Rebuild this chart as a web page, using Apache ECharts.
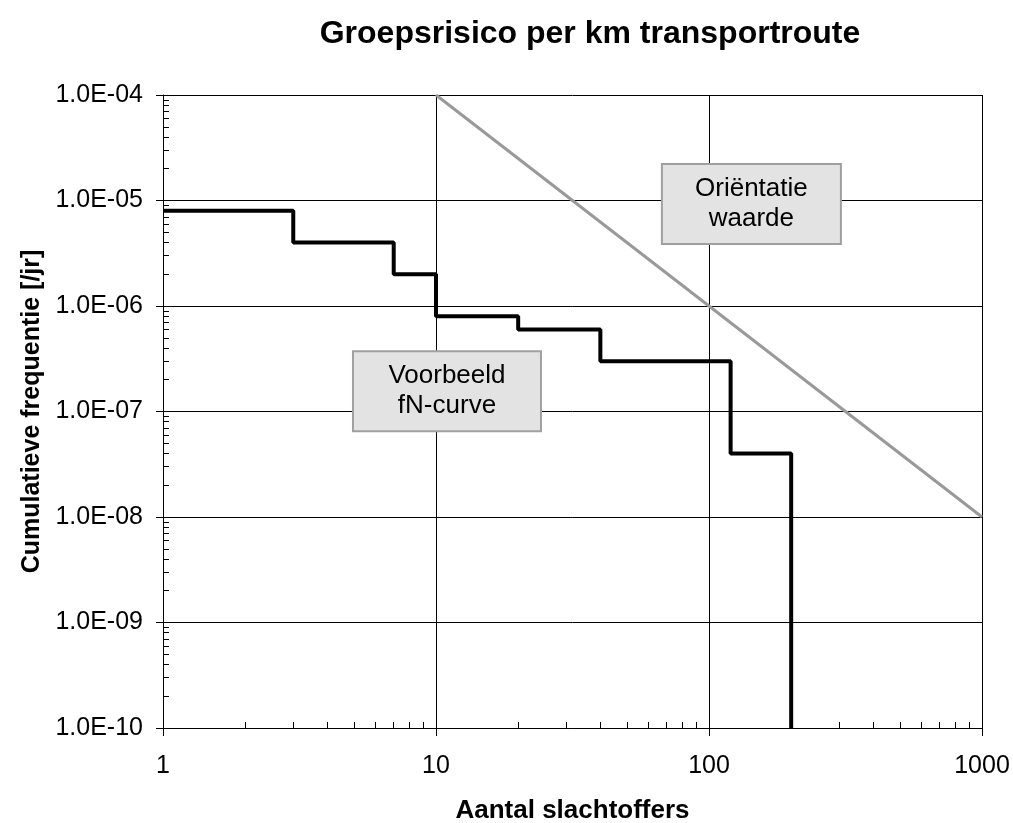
<!DOCTYPE html>
<html>
<head>
<meta charset="utf-8">
<script src="https://cdn.jsdelivr.net/npm/echarts@6/dist/echarts.min.js"></script>
<style>html,body{margin:0;padding:0;background:#fff}#c{width:1013px;height:823px}</style>
</head>
<body>
<div id="c"></div>
<script>
// Data
var fnN = [1, 3, 7, 10, 20, 40, 120, 200];
var fnF = [8e-6, 4e-6, 2e-6, 8e-7, 6e-7, 3e-7, 4e-8, 1e-10];
var orientN = [10, 1000];
var orientF = [1e-4, 1e-8];
var xMajor = [1, 10, 100, 1000];
var yMajor = [1e-10, 1e-9, 1e-8, 1e-7, 1e-6, 1e-5, 1e-4];
var boxLabels = [
  {name: 'Oriëntatie\nwaarde', N: 143, F: 9.27e-6},
  {name: 'Voorbeeld\nfN-curve', N: 10.97, F: 1.56e-7}
];
var boxWidths = [177, 186];

var xMinor = [], yMinor = [];
for (var d = 0; d < 3; d++) for (var m = 2; m <= 9; m++) xMinor.push(m * Math.pow(10, d));
for (var e = -10; e < -4; e++) for (var m2 = 2; m2 <= 9; m2++) yMinor.push(m2 * Math.pow(10, e));

function fmtE(v) {
  var s = Number(v).toExponential(1).toUpperCase();
  var p = s.split('E');
  var exp = parseInt(p[1], 10);
  var sign = exp < 0 ? '-' : '+';
  var a = Math.abs(exp);
  return p[0] + 'E' + sign + (a < 10 ? '0' + a : a);
}

var font = 'Liberation Sans, Arial, sans-serif';
var chart = echarts.init(document.getElementById('c'));
var baseX = {type: 'log', logBase: 10, min: 1, max: 1000, gridIndex: 0};
var baseY = {type: 'log', logBase: 10, min: 1e-10, max: 1e-4, gridIndex: 0};

chart.setOption({
  backgroundColor: '#fff',
  animation: false,
  title: {
    text: 'Groepsrisico per km transportroute',
    left: 585, top: 13, textAlign: 'center',
    textStyle: {fontFamily: font, fontSize: 32, fontWeight: 'bold', color: '#000'}
  },
  grid: {left: 163, right: 31, top: 95, bottom: 95, containLabel: false, outerBoundsMode: 'none'},
  xAxis: [
    Object.assign({}, baseX, {
      name: 'Aantal slachtoffers', nameLocation: 'middle', nameGap: 70,
      nameTextStyle: {fontFamily: font, fontSize: 26, fontWeight: 'bold', color: '#000'},
      axisLine: {show: true, lineStyle: {color: '#000', width: 1}},
      axisTick: {show: true, inside: false, length: 8, lineStyle: {color: '#000'}, customValues: xMajor},
      axisLabel: {fontFamily: font, fontSize: 25, color: '#000', margin: 26, customValues: xMajor,
        formatter: function (v) { return String(Math.round(v)); }},
      splitLine: {show: true, lineStyle: {color: '#000', width: 1}}
    }),
    Object.assign({}, baseX, {
      position: 'bottom',
      axisLine: {show: false},
      axisTick: {show: true, inside: true, length: 6, lineStyle: {color: '#000'}, customValues: xMinor},
      axisLabel: {show: false},
      splitLine: {show: false}
    })
  ],
  yAxis: [
    Object.assign({}, baseY, {
      name: 'Cumulatieve frequentie [/jr]', nameLocation: 'middle', nameGap: 116, nameRotate: 90,
      nameTextStyle: {fontFamily: font, fontSize: 25, fontWeight: 'bold', color: '#000'},
      axisLine: {show: true, lineStyle: {color: '#000', width: 1}},
      axisTick: {show: true, inside: false, length: 7, lineStyle: {color: '#000'}, customValues: yMajor},
      axisLabel: {fontFamily: font, fontSize: 25, color: '#000', margin: 20, customValues: yMajor, formatter: fmtE},
      splitLine: {show: true, lineStyle: {color: '#000', width: 1}}
    }),
    Object.assign({}, baseY, {
      position: 'left',
      axisLine: {show: false},
      axisTick: {show: true, inside: true, length: 6, lineStyle: {color: '#000'}, customValues: yMinor},
      axisLabel: {show: false},
      splitLine: {show: false}
    })
  ],
  series: [
    {
      type: 'line', name: 'Oriëntatiewaarde', xAxisIndex: 0, yAxisIndex: 0,
      data: orientN.map(function (n, i) { return [n, orientF[i]]; }),
      symbol: 'none', lineStyle: {color: '#999', width: 3}, z: 3
    },
    {
      type: 'line', name: 'fN-curve', xAxisIndex: 0, yAxisIndex: 0, step: 'end',
      data: fnN.map(function (n, i) { return [n, fnF[i]]; }),
      symbol: 'none', lineStyle: {color: '#000', width: 4}, z: 4,
      markPoint: {
        silent: true,
        symbol: 'rect', symbolSize: 1,
        itemStyle: {color: 'rgba(0,0,0,0)'},
        data: boxLabels.map(function (b, i) {
          return {name: b.name, coord: [b.N, b.F], label: {width: boxWidths[i]}};
        }),
        label: {
          show: true, position: 'inside', formatter: function (p) { return p.name; },
          fontFamily: font, fontSize: 26, color: '#000', textBorderWidth: 0, lineHeight: 30,
          align: 'center', verticalAlign: 'middle',
          backgroundColor: '#e3e3e3', borderColor: '#a0a0a0', borderWidth: 2,
          padding: [9, 0, 9, 0]
        }
      }
    }
  ]
});
</script>
</body>
</html>
